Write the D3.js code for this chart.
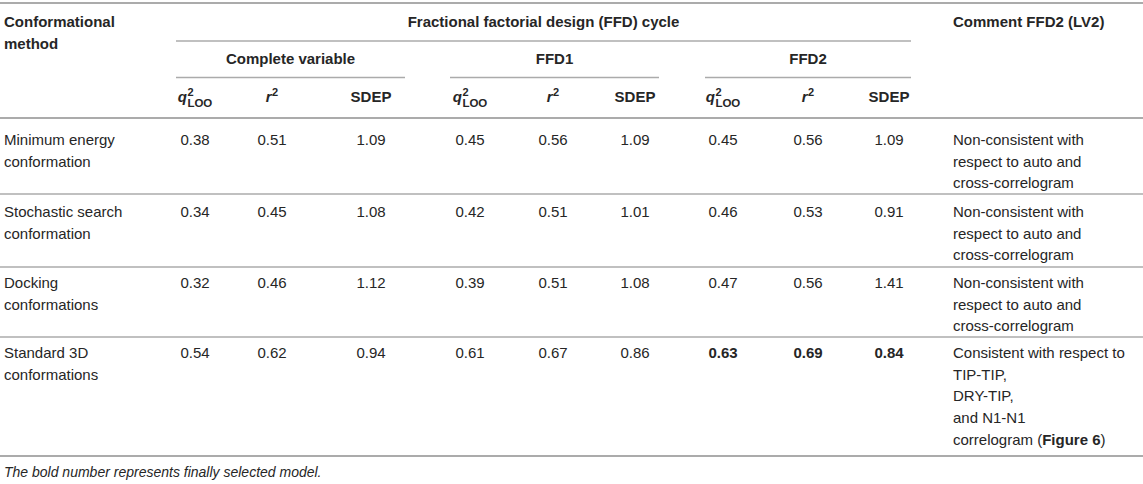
<!DOCTYPE html>
<html>
<head>
<meta charset="utf-8">
<script src="https://cdn.jsdelivr.net/npm/d3@7/dist/d3.min.js"></script>
<style>
  html, body { margin: 0; padding: 0; background: #fff; }
  svg { display: block; font-family: "Liberation Sans", Arial, Helvetica, sans-serif; }
</style>
</head>
<body>
<svg id="chart" width="1143" height="484"></svg>
<script>
// ---------------- DATA ----------------
const methods = [
  ["Minimum energy", "conformation"],
  ["Stochastic search", "conformation"],
  ["Docking", "conformations"],
  ["Standard 3D", "conformations"]
];
const cvQ2   = [0.38, 0.34, 0.32, 0.54];
const cvR2   = [0.51, 0.45, 0.46, 0.62];
const cvSDEP = [1.09, 1.08, 1.12, 0.94];
const ffd1Q2   = [0.45, 0.42, 0.39, 0.61];
const ffd1R2   = [0.56, 0.51, 0.51, 0.67];
const ffd1SDEP = [1.09, 1.01, 1.08, 0.86];
const ffd2Q2   = [0.45, 0.46, 0.47, 0.63];
const ffd2R2   = [0.56, 0.53, 0.56, 0.69];
const ffd2SDEP = [1.09, 0.91, 1.41, 0.84];
const comments = [
  ["Non-consistent with", "respect to auto and", "cross-correlogram"],
  ["Non-consistent with", "respect to auto and", "cross-correlogram"],
  ["Non-consistent with", "respect to auto and", "cross-correlogram"],
  ["Consistent with respect to", "TIP-TIP,", "DRY-TIP,", "and N1-N1", "correlogram (|Figure 6|)"]
];
const boldRow = 3;            // finally selected model row (FFD2 values bold)
const groups = ["Complete variable", "FFD1", "FFD2"];
const subHeaders = ["q2", "r2", "SDEP"];
const topHeader = "Fractional factorial design (FFD) cycle";
const methodHeader = ["Conformational", "method"];
const commentHeader = "Comment FFD2 (LV2)";
const footnote = "The bold number represents finally selected model.";

// ---------------- LAYOUT ----------------
const W = 1143;
const svg = d3.select("#chart");
const ink = "#262626";
const ruleColor = "#ababab";
const FS = 15;

const colKeys = d3.range(9);
const colX = d3.scaleOrdinal().domain(colKeys).range([195, 272, 371, 470, 553, 635, 723, 808, 889]);
const groupSpan = d3.scaleOrdinal().domain(groups).range([[176, 405], [450, 659], [705, 911]]);
const rowBase = d3.scaleOrdinal().domain(d3.range(4)).range([145, 217, 288, 358]);
const lineStep = 21.7;
const textX0 = 4, commentX = 953;
const fmt = d3.format(".2f");

const seriesCols = [cvQ2, cvR2, cvSDEP, ffd1Q2, ffd1R2, ffd1SDEP, ffd2Q2, ffd2R2, ffd2SDEP];

// rules
function rule(x1, x2, y, w) {
  svg.append("line").attr("x1", x1).attr("x2", x2).attr("y1", y).attr("y2", y)
    .attr("stroke", ruleColor).attr("stroke-width", w);
}
rule(0, W, 3, 2);
rule(176, 911, 41, 1.3);
groups.forEach(g => rule(groupSpan(g)[0], groupSpan(g)[1], 77.5, 1.3));
rule(0, W, 118, 2);
[194, 267, 337].forEach(y => rule(0, W, y, 1.6));
rule(0, W, 456, 2);

// header texts
const hdr = svg.append("g").attr("fill", ink).attr("font-size", FS).attr("font-weight", "bold");
methodHeader.forEach((t, i) => hdr.append("text").attr("x", textX0).attr("y", 27 + i * 22).text(t));
hdr.append("text").attr("x", (176 + 911) / 2).attr("y", 27).attr("text-anchor", "middle").text(topHeader);
hdr.append("text").attr("x", commentX).attr("y", 27).text(commentHeader);
groups.forEach(g => {
  const s = groupSpan(g);
  hdr.append("text").attr("x", (s[0] + s[1]) / 2).attr("y", 64).attr("text-anchor", "middle").text(g);
});

// sub headers
colKeys.forEach(c => {
  const kind = subHeaders[c % 3];
  const cx = colX(c);
  const g = hdr.append("g");
  if (kind === "SDEP") {
    g.append("text").attr("x", cx).attr("y", 102).attr("text-anchor", "middle").text("SDEP");
  } else {
    const letter = kind === "q2" ? "q" : "r";
    const tmp = g.append("text").attr("y", 102).attr("font-style", "italic").text(letter);
    const lw = tmp.node().getComputedTextLength();
    const sup = g.append("text").attr("y", 96).attr("font-size", 11).text("2");
    const sw = sup.node().getComputedTextLength();
    let subw = 0, sub = null;
    if (kind === "q2") {
      sub = g.append("text").attr("y", 107).attr("font-size", 11.5).text("LOO");
      subw = sub.node().getComputedTextLength();
    }
    const total = lw + 0.5 + Math.max(sw, subw);
    const x0 = cx - total / 2;
    tmp.attr("x", x0);
    sup.attr("x", x0 + lw + 0.5);
    if (sub) sub.attr("x", x0 + lw + 0.5);
  }
});

// body rows
const body = svg.append("g").attr("fill", ink).attr("font-size", FS);
methods.forEach((lines, r) => {
  lines.forEach((t, k) => body.append("text").attr("x", textX0).attr("y", rowBase(r) + k * lineStep).text(t));
});
seriesCols.forEach((vals, c) => {
  vals.forEach((v, r) => {
    body.append("text").attr("x", colX(c)).attr("y", rowBase(r)).attr("text-anchor", "middle")
      .attr("font-weight", (r === boldRow && c >= 6) ? "bold" : null)
      .text(fmt(v));
  });
});
comments.forEach((lines, r) => {
  lines.forEach((t, k) => {
    const tx = body.append("text").attr("x", commentX).attr("y", rowBase(r) + k * lineStep);
    t.split("|").forEach((part, i) => {
      tx.append("tspan").attr("font-weight", i % 2 === 1 ? "bold" : null).text(part);
    });
  });
});

// footnote
svg.append("text").attr("x", textX0).attr("y", 477).attr("fill", ink)
  .attr("font-size", 14).attr("font-style", "italic").text(footnote);
</script>
</body>
</html>
